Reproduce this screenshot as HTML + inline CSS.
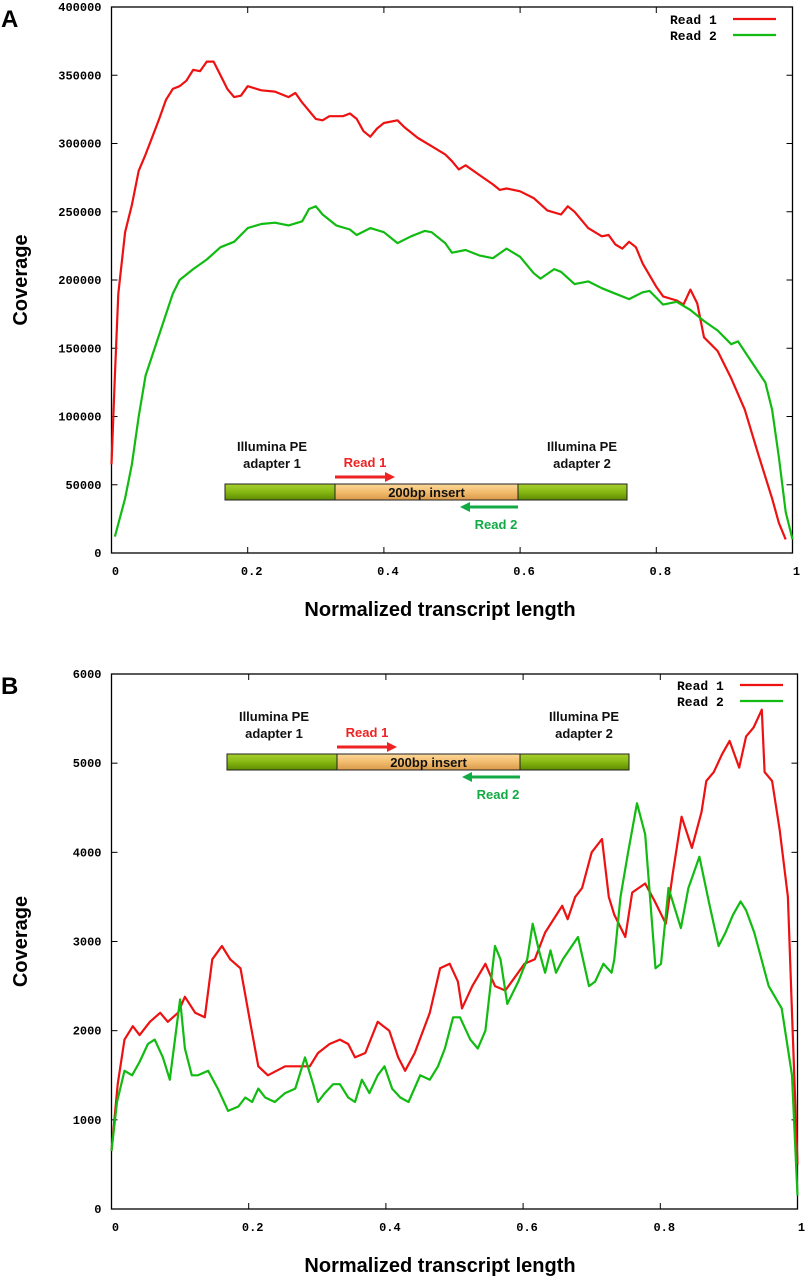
<!DOCTYPE html>
<html><head><meta charset="utf-8"><style>
html,body{margin:0;padding:0;background:#fff;}
svg{display:block;}
.tk{font-family:"Liberation Mono",monospace;font-weight:bold;font-size:12px;fill:#000;}
.ttl{font-family:"Liberation Sans",sans-serif;font-weight:bold;font-size:20px;fill:#000;}
.ins{font-family:"Liberation Sans",sans-serif;font-weight:bold;font-size:13px;}
.leg{font-family:"Liberation Mono",monospace;font-weight:bold;font-size:13px;fill:#000;}
</style></head><body>
<svg id="chart" width="807" height="1280" viewBox="0 0 807 1280" xmlns="http://www.w3.org/2000/svg">
<defs>
<linearGradient id="gg" x1="0" y1="0" x2="0" y2="1"><stop offset="0" stop-color="#a8d030"/><stop offset="0.5" stop-color="#86b812"/><stop offset="1" stop-color="#5e8a00"/></linearGradient>
<linearGradient id="og" x1="0" y1="0" x2="0" y2="1"><stop offset="0" stop-color="#fcd79a"/><stop offset="0.5" stop-color="#f2bc6e"/><stop offset="1" stop-color="#d9994a"/></linearGradient>
</defs>
</svg>
<script>
// Panel A data
const aRead1X=[0,0.005,0.01,0.02,0.03,0.04,0.05,0.06,0.07,0.08,0.09,0.10,0.11,0.12,0.13,0.14,0.15,0.16,0.17,0.18,0.19,0.20,0.22,0.24,0.26,0.27,0.28,0.30,0.31,0.32,0.34,0.35,0.36,0.37,0.38,0.39,0.40,0.42,0.43,0.45,0.47,0.49,0.50,0.51,0.52,0.54,0.56,0.57,0.58,0.60,0.62,0.64,0.66,0.67,0.68,0.70,0.72,0.73,0.74,0.75,0.76,0.77,0.78,0.80,0.81,0.83,0.84,0.85,0.86,0.87,0.89,0.91,0.93,0.95,0.97,0.98,0.99];
const aRead1Y=[65000,130000,190000,235000,255000,280000,292000,305000,318000,332000,340000,342000,346000,354000,353000,360000,360000,350000,340000,334000,335000,342000,339000,338000,334000,337000,330000,318000,317000,320000,320000,322000,318000,309000,305000,311000,315000,317000,312000,304000,298000,292000,287000,281000,284000,277000,270000,266000,267000,265000,260000,251000,248000,254000,250000,238000,232000,233000,226000,223000,228000,224000,212000,195000,188000,185000,182000,193000,183000,158000,148000,128000,105000,72000,40000,22000,10000];
const aRead2X=[0.005,0.02,0.03,0.04,0.05,0.07,0.09,0.10,0.12,0.14,0.16,0.18,0.20,0.22,0.24,0.26,0.28,0.29,0.30,0.31,0.33,0.35,0.36,0.38,0.40,0.42,0.44,0.46,0.47,0.49,0.50,0.52,0.54,0.56,0.58,0.60,0.62,0.63,0.65,0.66,0.68,0.70,0.72,0.74,0.76,0.78,0.79,0.81,0.83,0.85,0.87,0.89,0.91,0.92,0.94,0.96,0.97,0.98,0.99,1.0];
const aRead2Y=[12000,40000,65000,100000,130000,160000,190000,200000,208000,215000,224000,228000,238000,241000,242000,240000,243000,252000,254000,248000,240000,237000,233000,238000,235000,227000,232000,236000,235000,227000,220000,222000,218000,216000,223000,217000,205000,201000,208000,206000,197000,199000,194000,190000,186000,191000,192000,182000,184000,178000,170000,163000,153000,155000,140000,125000,105000,70000,30000,10000];
const aYTicks=[0,50000,100000,150000,200000,250000,300000,350000,400000];
// Panel B data (x in normalized length)
const bRead1X=[0,0.009,0.019,0.031,0.041,0.056,0.071,0.082,0.097,0.107,0.122,0.136,0.147,0.161,0.173,0.188,0.202,0.214,0.228,0.253,0.275,0.289,0.301,0.318,0.333,0.345,0.355,0.370,0.388,0.405,0.418,0.428,0.442,0.464,0.479,0.493,0.505,0.511,0.526,0.545,0.559,0.574,0.588,0.602,0.617,0.632,0.632,0.657,0.665,0.676,0.686,0.700,0.715,0.725,0.733,0.749,0.759,0.778,0.792,0.808,0.818,0.831,0.846,0.860,0.867,0.878,0.890,0.901,0.915,0.925,0.936,0.948,0.952,0.963,0.974,0.986,0.992,1.0];
const bRead1Y=[650,1400,1900,2050,1950,2100,2200,2100,2200,2380,2200,2150,2800,2950,2800,2700,2100,1600,1500,1600,1600,1600,1750,1850,1900,1850,1700,1750,2100,2000,1700,1550,1750,2200,2700,2750,2550,2250,2500,2750,2500,2450,2600,2750,2800,3100,3100,3400,3250,3500,3600,4000,4150,3500,3300,3050,3550,3650,3450,3200,3750,4400,4050,4450,4800,4900,5100,5250,4950,5300,5400,5600,4900,4800,4250,3500,2200,500];
const bRead2X=[0,0.008,0.019,0.030,0.041,0.053,0.063,0.075,0.085,0.100,0.107,0.117,0.126,0.141,0.155,0.170,0.185,0.195,0.205,0.214,0.224,0.238,0.253,0.268,0.282,0.294,0.301,0.311,0.323,0.333,0.345,0.355,0.365,0.376,0.388,0.398,0.409,0.421,0.433,0.450,0.464,0.476,0.486,0.498,0.508,0.523,0.534,0.545,0.559,0.567,0.577,0.593,0.606,0.614,0.623,0.632,0.640,0.648,0.658,0.680,0.696,0.705,0.717,0.729,0.733,0.742,0.753,0.766,0.778,0.793,0.801,0.812,0.820,0.830,0.841,0.857,0.872,0.885,0.895,0.906,0.917,0.925,0.937,0.958,0.977,0.992,1.0];
const bRead2Y=[650,1200,1550,1500,1650,1850,1900,1700,1450,2350,1800,1500,1500,1550,1350,1100,1150,1250,1200,1350,1250,1200,1300,1350,1700,1400,1200,1300,1400,1400,1250,1200,1450,1300,1500,1600,1350,1250,1200,1500,1450,1600,1800,2150,2150,1900,1800,2000,2950,2800,2300,2550,2800,3200,2900,2650,2900,2650,2800,3050,2500,2550,2750,2650,2800,3500,4000,4550,4200,2700,2750,3600,3400,3150,3600,3950,3400,2950,3100,3300,3450,3350,3100,2500,2250,1500,150];
const bYTicks=[0,1000,2000,3000,4000,5000,6000];
const xTicks=[0,0.2,0.4,0.6,0.8,1];
const xTickLabels=["0","0.2","0.4","0.6","0.8","1"];

const NS="http://www.w3.org/2000/svg";
const svg=document.getElementById('chart');
function mk(tag,attrs,parent){const e=document.createElementNS(NS,tag);for(const k in attrs)e.setAttribute(k,attrs[k]);(parent||svg).appendChild(e);return e;}

function panel(cfg){
  const g=mk('g',{});
  
  
  const sx=v=>cfg.l+v*(cfg.r-cfg.l);
  const sy=v=>cfg.b-v/cfg.ymax*(cfg.b-cfg.t);
  const frame=mk('rect',{x:cfg.l,y:cfg.t,width:cfg.r-cfg.l,height:cfg.b-cfg.t,fill:'none',stroke:'#000','stroke-width':1.3},g);
  
  
  cfg.yTicks.forEach(v=>{
    const y=sy(v);
    mk('line',{x1:cfg.l,x2:cfg.l+6,y1:y,y2:y,stroke:'#000'},g);
    mk('line',{x1:cfg.r,x2:cfg.r-6,y1:y,y2:y,stroke:'#000'},g);
    const t=mk('text',{x:cfg.l-10,y:y+4,'text-anchor':'end',class:'tk'},g);
    t.textContent=String(v);
    
    
  });
  xTicks.forEach((v,i)=>{
    const x=sx(v);
    mk('line',{x1:x,x2:x,y1:cfg.b,y2:cfg.b-6,stroke:'#000'},g);
    mk('line',{x1:x,x2:x,y1:cfg.t,y2:cfg.t+6,stroke:'#000'},g);
    const t=mk('text',{x:x+4,y:cfg.b+22,'text-anchor':'middle',class:'tk'},g);
    t.textContent=xTickLabels[i];
    
    
  });
  const series=[[cfg.x1,cfg.y1,'#ee1111','read-1-line'],[cfg.x2,cfg.y2,'#11bb11','read-2-line']];
  series.forEach(s=>{
    const pts=s[0].map((x,i)=>sx(x).toFixed(1)+','+sy(s[1][i]).toFixed(1)).join(' ');
    const p=mk('polyline',{points:pts,fill:'none',stroke:s[2],'stroke-width':2.2,'stroke-linejoin':'round'},g);
    
    
  });
  [['Read 1','#ee1111',cfg.legY],['Read 2','#11bb11',cfg.legY+16]].forEach((L,i)=>{
    const t=mk('text',{x:cfg.legX,y:L[2]+5,class:'leg'},g);
    t.textContent=L[0];
    
    
    mk('line',{x1:cfg.legX+63,x2:cfg.legX+106,y1:L[2],y2:L[2],stroke:L[1],'stroke-width':2.2},g);
  });
  const xt=mk('text',{x:440,y:cfg.b+63,'text-anchor':'middle',class:'ttl'},g);
  xt.textContent='Normalized transcript length';
  
  
  const cy=(cfg.t+cfg.b)/2;
  const yt=mk('text',{x:27,y:cy,'text-anchor':'middle',class:'ttl',transform:'rotate(-90 27 '+cy+')'},g);
  yt.textContent='Coverage';
  
  
  const pl=mk('text',{x:1,y:cfg.t+20,class:'ttl',style:'font-size:24px'},g);
  pl.textContent=cfg.letter;
  
  
  const d=mk('g',{},g);
  
  
  const bt=cfg.barT, L0=cfg.barL, R0=cfg.barL+402, d1=L0+110, d2=L0+293;
  mk('rect',{x:L0,y:bt,width:d1-L0,height:16,fill:'url(#gg)',stroke:'#222'},d);
  mk('rect',{x:d1,y:bt,width:d2-d1,height:16,fill:'url(#og)',stroke:'#222'},d);
  mk('rect',{x:d2,y:bt,width:R0-d2,height:16,fill:'url(#gg)',stroke:'#222'},d);
  const ins=(x,y,s,c)=>{const t=mk('text',{x:x,y:y,'text-anchor':'middle',class:'ins',fill:c},d);t.textContent=s;return t;};
  ins((d1+d2)/2,bt+13,'200bp insert','#111');
  ins(L0+47,bt-33,'Illumina PE','#111');
  ins(L0+47,bt-16,'adapter 1','#111');
  ins(R0-45,bt-33,'Illumina PE','#111');
  ins(R0-45,bt-16,'adapter 2','#111');
  ins(d1+30,bt-17,'Read 1','#ee2222');
  ins(d2-22,bt+45,'Read 2','#11aa44');
  mk('line',{x1:d1,x2:d1+52,y1:bt-7,y2:bt-7,stroke:'#ee2222','stroke-width':3},d);
  mk('polygon',{points:(d1+60)+','+(bt-7)+' '+(d1+50)+','+(bt-12)+' '+(d1+50)+','+(bt-2),fill:'#ee2222'},d);
  mk('line',{x1:d2,x2:d2-50,y1:bt+23,y2:bt+23,stroke:'#11aa44','stroke-width':3},d);
  mk('polygon',{points:(d2-58)+','+(bt+23)+' '+(d2-48)+','+(bt+18)+' '+(d2-48)+','+(bt+28),fill:'#11aa44'},d);
}
panel({name:'panel-a',letter:'A',l:111.5,r:792.5,t:7,b:553,ymax:400000,yTicks:aYTicks,x1:aRead1X,y1:aRead1Y,x2:aRead2X,y2:aRead2Y,legX:670,legY:19,barL:225,barT:484});
panel({name:'panel-b',letter:'B',l:111.5,r:797.5,t:674,b:1209,ymax:6000,yTicks:bYTicks,x1:bRead1X,y1:bRead1Y,x2:bRead2X,y2:bRead2Y,legX:677,legY:685,barL:227,barT:754});
</script>
</body></html>
